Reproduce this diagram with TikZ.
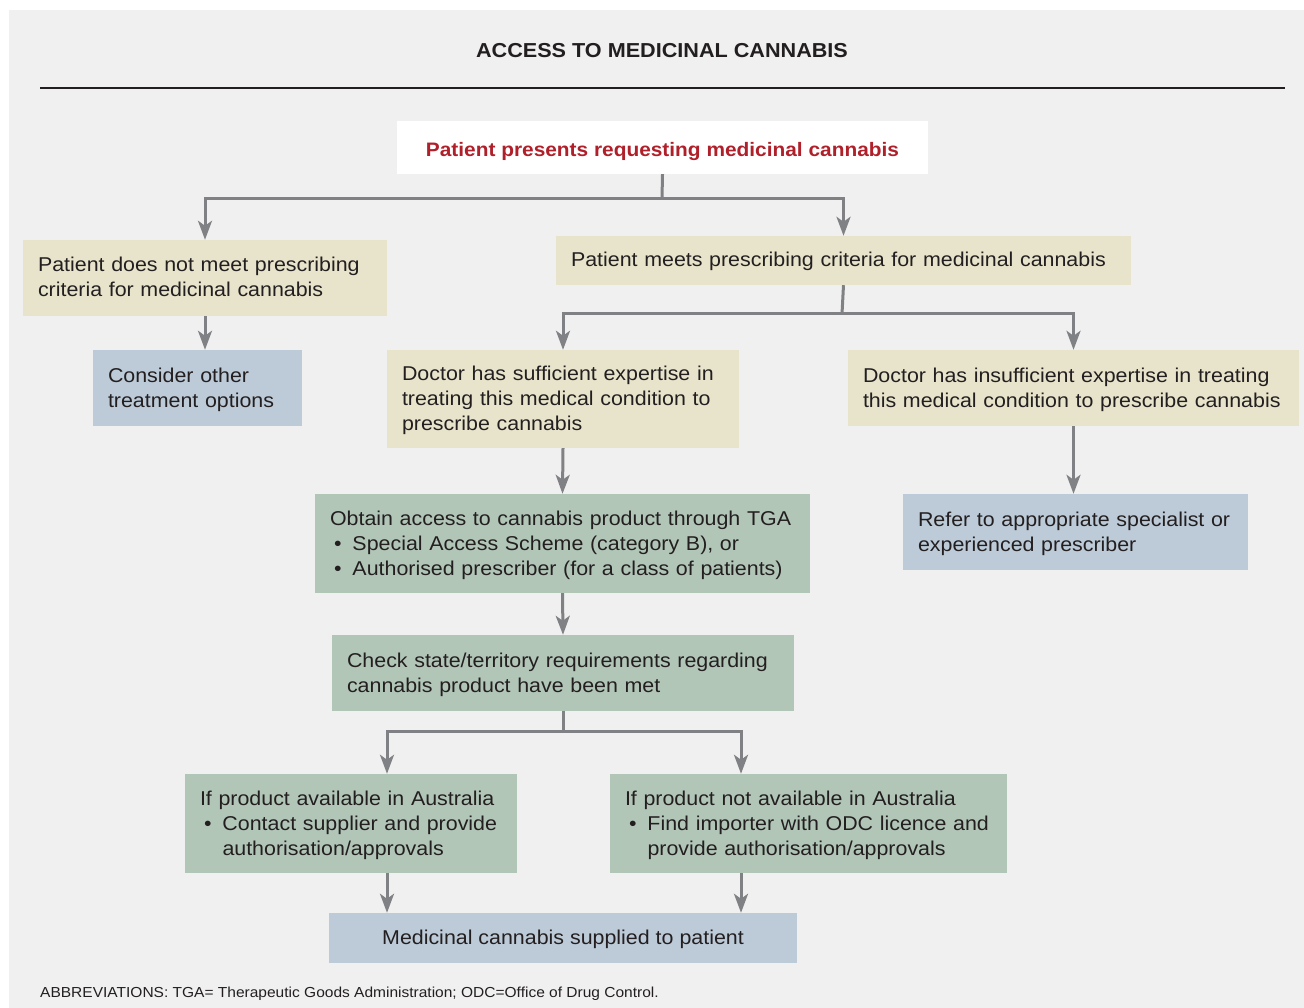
\documentclass[tikz,border=0pt]{standalone}
\usepackage{fontspec}
\setmainfont[FakeStretch=1.07]{Liberation Sans}
\usetikzlibrary{arrows.meta}
\definecolor{panel}{HTML}{F0F0F0}
\definecolor{tan}{HTML}{E8E4CB}
\definecolor{bluebox}{HTML}{BDCBD8}
\definecolor{greenbox}{HTML}{B2C6B8}
\definecolor{arrgrey}{HTML}{808184}
\definecolor{txt}{HTML}{231F20}
\definecolor{redtxt}{HTML}{B0202A}
\newcommand{\bulitem}{\makebox[22.5pt][l]{\hspace*{4pt}•}}
\tikzset{
  box/.style={inner xsep=15pt, inner ysep=0pt, align=left, text=txt,
    font=\fontsize{20pt}{25pt}\selectfont, anchor=center,
    execute at begin node={\rule{0pt}{17.3pt}},
    execute at end node={\rule[-4.3pt]{0pt}{4.3pt}}},
  tanbox/.style={box, fill=tan},
  bluebx/.style={box, fill=bluebox},
  greenbx/.style={box, fill=greenbox},
  conn/.style={draw=arrgrey, line width=3pt},
  arr/.style={conn, -{Stealth[length=19pt, width=14pt, inset=5pt]}},
}
\begin{document}
\begin{tikzpicture}[x=1pt, y=-1pt]
\useasboundingbox (0,0) rectangle (1304,1008);
\fill[white] (0,0) rectangle (1304,1008);
\fill[panel] (9,10) rectangle (1304,1008);
\node[font=\bfseries\fontsize{20.2pt}{22pt}\selectfont, text=txt] (title) at (662,51) {ACCESS TO MEDICINAL CANNABIS};
\draw[line width=1.5pt, txt] (40,88) -- (1285,88);

\node[fill=white, inner xsep=0pt, inner ysep=0pt, minimum width=531pt, minimum height=53pt, text=redtxt,
  text height=22.5pt, text depth=4.1pt,
  font=\bfseries\fontsize{19.5pt}{24pt}\selectfont] (top) at (662.5,147.5) {Patient presents requesting medicinal cannabis};

\node[tanbox, text width=334pt, minimum height=76pt] (A) at (205,278)
  {Patient does not meet prescribing\\criteria for medicinal cannabis};
\node[tanbox, text width=545pt, minimum height=49pt] (B) at (843.5,260.5)
  {Patient meets prescribing criteria for medicinal cannabis};
\node[bluebx, text width=179pt, minimum height=76pt] (C) at (197.5,388)
  {Consider other\\treatment options};
\node[tanbox, text width=322pt, minimum height=98pt] (D) at (563,399)
  {Doctor has sufficient expertise in\\treating this medical condition to\\prescribe cannabis};
\node[tanbox, text width=421pt, minimum height=76pt] (E) at (1073.5,388)
  {Doctor has insufficient expertise in treating\\this medical condition to prescribe cannabis};
\node[bluebx, text width=315pt, minimum height=76pt] (F) at (1075.5,532)
  {Refer to appropriate specialist or\\experienced prescriber};
\node[greenbx, text width=465pt, minimum height=99pt] (G) at (562.5,543.5)
  {Obtain access to cannabis product through TGA\\\bulitem Special Access Scheme (category B), or\\\bulitem Authorised prescriber (for a class of patients)};
\node[greenbx, text width=432pt, minimum height=76pt] (H) at (563,673)
  {Check state/territory requirements regarding\\cannabis product have been met};
\node[greenbx, text width=302pt, minimum height=99pt] (I) at (351,823.5)
  {If product available in Australia\\\bulitem Contact supplier and provide\\\hspace*{22.5pt}authorisation/approvals};
\node[greenbx, text width=367pt, minimum height=99pt] (J) at (808.5,823.5)
  {If product not available in Australia\\\bulitem Find importer with ODC licence and\\\hspace*{22.5pt}provide authorisation/approvals};
\node[bluebx, align=center, minimum width=468pt, minimum height=50pt] (K) at (563,938)
  {Medicinal cannabis supplied to patient};
\node[anchor=west, inner sep=0pt, text=txt, font=\fontsize{14.5pt}{17pt}\selectfont] (abbr) at (40,994)
  {ABBREVIATIONS: TGA= Therapeutic Goods Administration; ODC=Office of Drug Control.};

% connectors
\coordinate (j1) at (662,199);
\draw[conn] (top.south) -- (j1);
\draw[arr] (j1) -| (A.north);
\draw[arr] (j1) -| (B.north);
\draw[arr] (A.south) -- (A.south |- C.north);
\coordinate (j2) at (842,314);
\draw[conn] (B.south) -- (j2);
\draw[arr] (j2) -| (D.north);
\draw[arr] (j2) -| (E.north);
\draw[arr] (E.south) -- (E.south |- F.north);
\draw[arr] (D.south) -- (G.north);
\draw[arr] (G.south) -- (H.north);
\coordinate (j3) at (563,731);
\draw[conn] (H.south) -- (j3);
\draw[arr] (j3) -| ([xshift=36pt]I.north);
\draw[arr] (j3) -| ([xshift=-67.5pt]J.north);
\draw[arr] ([xshift=36pt]I.south) -- ([xshift=36pt]I.south |- K.north);
\draw[arr] ([xshift=-67.5pt]J.south) -- ([xshift=-67.5pt]J.south |- K.north);
\end{tikzpicture}
\end{document}
